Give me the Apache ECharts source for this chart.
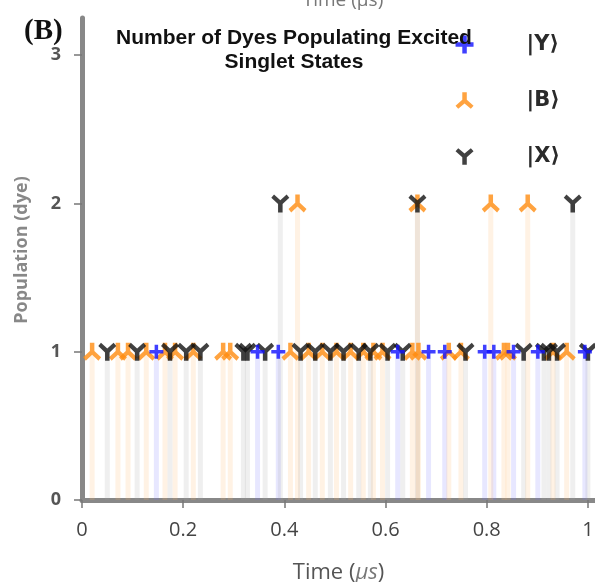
<!DOCTYPE html>
<html>
<head>
<meta charset="utf-8">
<script src="https://cdn.jsdelivr.net/npm/echarts@6/dist/echarts.min.js"></script>
<style>
  html, body { margin: 0; padding: 0; background: #fff; }
  #chart { width: 595px; height: 582px; }
</style>
</head>
<body>
<div id="chart"></div>
<script>
// times (μs) of each dye excitation, population 1
var blueT = [0.147, 0.347, 0.388, 0.624, 0.685, 0.717, 0.796, 0.814, 0.853, 0.901, 0.994];
var orangeT = [0.020, 0.071, 0.091, 0.127, 0.164, 0.184, 0.220, 0.279, 0.293, 0.412, 0.448, 0.475,
  0.503, 0.531, 0.556, 0.576, 0.594, 0.653, 0.665, 0.725, 0.749, 0.834, 0.842, 0.931, 0.958];
var blackT = [0.050, 0.109, 0.174, 0.206, 0.234, 0.319, 0.327, 0.362, 0.432, 0.461, 0.491, 0.517,
  0.547, 0.570, 0.604, 0.634, 0.758, 0.873, 0.913, 0.923, 0.939, 1.0];
// times with population 2
var orange2 = [0.426, 0.663, 0.808, 0.881];
var black2 = [0.392, 0.663, 0.970];
var legendNames = ['|Y⟩', '|B⟩', '|X⟩'];
var xTicks = [0, 0.2, 0.4, 0.6, 0.8, 1];
var yTicks = [0, 1, 2, 3];

var plusPath = 'path://M7.5,0L12.5,0L12.5,7.5L20,7.5L20,12.5L12.5,12.5L12.5,20L7.5,20L7.5,12.5L0,12.5L0,7.5L7.5,7.5Z';
var triUp = 'path://M7.5,0L12.5,0L12.5,8.5L20,15L17,18.5L10,12.5L3,18.5L0,15L7.5,8.5Z';
var triDown = 'path://M7.5,20L12.5,20L12.5,11.5L20,5L17,1.5L10,7.5L3,1.5L0,5L7.5,11.5Z';

function pts(list, y) { return list.map(function (t) { return [t, y]; }); }

var blueData = pts(blueT, 1);
var orangeData = pts(orangeT, 1).concat(pts(orange2, 2));
var blackData = pts(blackT, 1).concat(pts(black2, 2));

function stem(name, data, color) {
  return {
    name: name, type: 'bar', data: data, barWidth: 5, barGap: '-100%',
    itemStyle: { color: color, opacity: 0.17 }, silent: true, z: 1
  };
}
function dots(name, data, symbol, color, size) {
  return {
    name: name, type: 'scatter', data: data, symbol: symbol, symbolSize: size,
    itemStyle: { color: color }, z: 3
  };
}

var chart = echarts.init(document.getElementById('chart'));
chart.setOption({
  animation: false,
  grid: { left: 82, right: 0, top: 18, bottom: 82, outerBoundsMode: 'none', containLabel: false },
  title: [
    { text: 'Number of Dyes Populating Excited\nSinglet States', left: 289, top: 21, textAlign: 'center',
      textStyle: { fontFamily: 'Liberation Sans', fontWeight: 'bold', fontSize: 21, lineHeight: 24, color: '#111' } },
    { text: '(B)', left: 19, top: 12,
      textStyle: { fontFamily: 'Liberation Serif', fontWeight: 'bold', fontSize: 29, color: '#111' } },
    { text: 'Time (μs)', left: 338, top: -14, textAlign: 'center',
      textStyle: { fontFamily: 'Open Sans', fontSize: 19, color: '#777', fontWeight: 'normal' } }
  ],
  graphic: [
    { type: 'text', x: 22, y: 250, rotation: Math.PI / 2,
      style: { text: 'Population (dye)', align: 'center', verticalAlign: 'middle',
        font: 'bold 18px "Open Sans"', fill: '#888' } }
  ],
  legend: {
    orient: 'vertical', right: 30, top: 29, itemGap: 35, itemWidth: 18, itemHeight: 18,
    textStyle: { fontFamily: 'DejaVu Sans', fontSize: 21, fontWeight: 'bold', color: '#2a2a2a', padding: [0, 0, 0, 48] },
    data: [
      { name: legendNames[0], icon: plusPath, itemStyle: { color: '#1010ff' } },
      { name: legendNames[1], icon: triUp },
      { name: legendNames[2], icon: triDown }
    ]
  },
  xAxis: {
    type: 'value', min: 0, max: 1.014,
    name: 'Time ({i|μs})', nameLocation: 'middle', nameGap: 62,
    nameTextStyle: { fontFamily: 'Open Sans', fontSize: 22, color: '#555',
      rich: { i: { fontFamily: 'Open Sans', fontSize: 22, color: '#777', fontStyle: 'italic' } } },
    axisLine: { lineStyle: { color: '#888', width: 5 } },
    axisTick: { show: true, length: 8, customValues: xTicks, lineStyle: { color: '#777', width: 1.5 } },
    axisLabel: { fontFamily: 'Open Sans', fontSize: 20, color: '#444', margin: 20, customValues: xTicks,
      formatter: function (v) { return String(+(+v).toFixed(1)); } },
    splitLine: { show: false }
  },
  yAxis: {
    type: 'value', min: 0, max: 3.25,
    axisLine: { show: true, lineStyle: { color: '#888', width: 5 } },
    axisTick: { show: true, length: 8, customValues: yTicks, lineStyle: { color: '#777', width: 1.5 } },
    axisLabel: { fontFamily: 'Open Sans', fontSize: 18, color: '#555', fontWeight: 'bold', margin: 21, customValues: yTicks },
    splitLine: { show: false }
  },
  series: [
    stem('blueStem', blueData, '#7070ff'),
    stem('orangeStem', orangeData, '#ffb060'),
    stem('blackStem', blackData, '#a0a0a0'),
    dots(legendNames[1], orangeData, triUp, '#ff8c10', 18),
    dots(legendNames[2], blackData, triDown, '#111111', 18),
    dots(legendNames[0], blueData, plusPath, '#1010ff', 14)
  ]
});
</script>
</body>
</html>
